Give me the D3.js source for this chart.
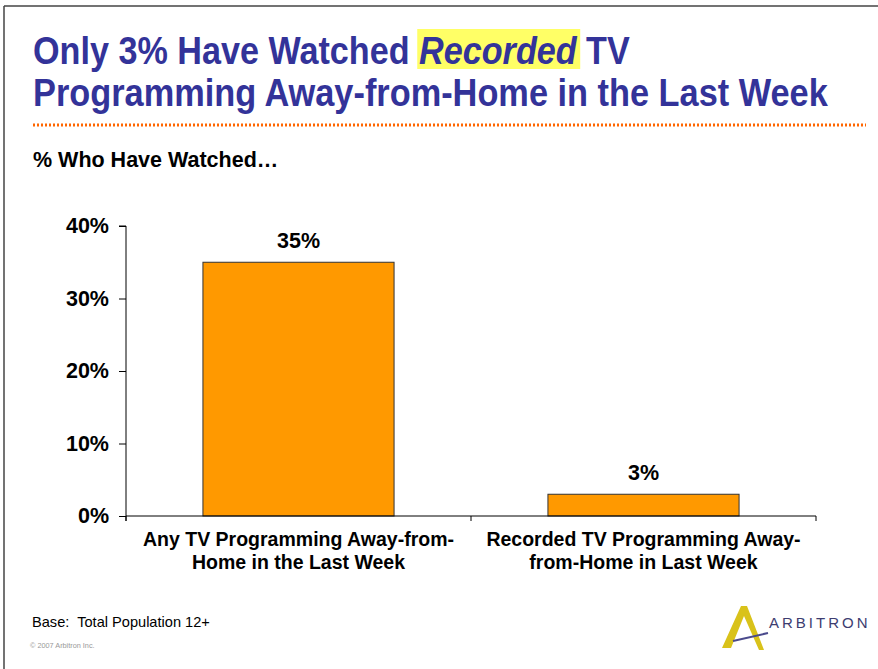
<!DOCTYPE html>
<html lang="en">
<head>
    <meta charset="UTF-8">
    <script src="https://d3js.org/d3.v7.min.js"></script>
    <title>Recorded TV Away-from-Home</title>
    <style>
        body { margin: 0; background: #fff; }
        svg { display: block; font-family: "Liberation Sans", Arial, sans-serif; }
    </style>
</head>
<body>
<div id="chart"></div>
<script>
    // ---- data ----
    const categories = [
        ["Any TV Programming Away-from-", "Home in the Last Week"],
        ["Recorded TV Programming Away-", "from-Home in Last Week"]
    ];
    const values = [35, 3];
    const yTicks = [0, 10, 20, 30, 40];

    const width = 878, height = 669;
    const svg = d3.select("#chart").append("svg")
        .attr("width", width)
        .attr("height", height);

    // slide frame (left and top edges)
    svg.append("line").attr("x1", 4).attr("y1", 6).attr("x2", 878).attr("y2", 6)
        .attr("stroke", "#444").attr("stroke-width", 1.5);
    svg.append("line").attr("x1", 4).attr("y1", 6).attr("x2", 4).attr("y2", 669)
        .attr("stroke", "#444").attr("stroke-width", 1.5);

    // ---- title ----
    const titleColor = "#333399";
    function titleLine(y, targetWidth, build) {
        const g = svg.append("g");
        const t = g.append("text")
            .attr("x", 0).attr("y", 0)
            .attr("font-size", 38).attr("font-weight", "bold")
            .attr("fill", titleColor);
        build(t);
        const w = t.node().getComputedTextLength();
        const sx = targetWidth / w;
        g.attr("transform", `translate(33,${y}) scale(${sx},1)`);
        return { g, t, sx };
    }

    const l1 = titleLine(64, 597, t => {
        t.append("tspan").text("Only 3% Have Watched ");
        t.append("tspan").attr("font-style", "italic").text("Recorded");
        t.append("tspan").text(" TV");
    });
    // yellow highlight behind "Recorded"
    {
        const node = l1.t.node();
        const start = "Only 3% Have Watched ".length;
        const xs = node.getStartPositionOfChar(start).x;
        const len = node.getSubStringLength(start, "Recorded".length);
        l1.g.insert("rect", "text")
            .attr("x", xs - 2).attr("y", -35)
            .attr("width", len + 6).attr("height", 40)
            .attr("fill", "#ffff66");
    }
    titleLine(106, 795, t => t.text("Programming Away-from-Home in the Last Week"));

    // dotted orange rule
    svg.append("line")
        .attr("x1", 33).attr("x2", 866).attr("y1", 125).attr("y2", 125)
        .attr("stroke", "#ff6600").attr("stroke-width", 3)
        .attr("stroke-dasharray", "2,2");

    svg.append("text")
        .attr("x", 33).attr("y", 167)
        .attr("font-size", 21.5).attr("font-weight", "bold")
        .attr("fill", "#000")
        .text("% Who Have Watched\u2026");

    // ---- chart ----
    const x0 = 126, x1 = 816, y0 = 516, yTop = 226;
    const x = d3.scaleBand()
        .domain(d3.range(values.length))
        .range([x0, x1])
        .paddingInner(0.446)
        .paddingOuter(0.223);
    const y = d3.scaleLinear().domain([0, 40]).range([y0, yTop]);

    svg.selectAll("rect.bar")
        .data(values)
        .enter()
        .append("rect")
        .attr("class", "bar")
        .attr("x", (d, i) => x(i))
        .attr("y", d => y(d))
        .attr("width", x.bandwidth())
        .attr("height", d => y0 - y(d))
        .attr("fill", "#ff9900")
        .attr("stroke", "#333")
        .attr("stroke-width", 1);

    svg.selectAll("text.val")
        .data(values)
        .enter()
        .append("text")
        .attr("class", "val")
        .attr("x", (d, i) => x(i) + x.bandwidth() / 2)
        .attr("y", d => y(d) - 14)
        .attr("text-anchor", "middle")
        .attr("font-size", 21.5).attr("font-weight", "bold")
        .text(d => d + "%");

    // y axis
    const yAxis = d3.axisLeft(y)
        .tickValues(yTicks)
        .tickSize(7)
        .tickPadding(10)
        .tickFormat(d => d + "%");
    const gy = svg.append("g")
        .attr("transform", `translate(${x0},0)`)
        .call(yAxis);
    gy.select(".domain").attr("stroke", "#000").attr("d", `M-7,${yTop}H0V${y0 + 5}`);
    gy.selectAll(".tick line").attr("stroke", "#000");
    gy.selectAll(".tick text")
        .attr("font-family", "'Liberation Sans', Arial, sans-serif")
        .attr("font-size", 21.5).attr("font-weight", "bold").attr("fill", "#000");

    // x axis with category separators
    svg.append("line")
        .attr("x1", x0).attr("x2", x1).attr("y1", y0).attr("y2", y0)
        .attr("stroke", "#000");
    const seps = d3.range(values.length + 1).map(i => x0 + i * x.step());
    svg.selectAll("line.sep")
        .data(seps)
        .enter()
        .append("line")
        .attr("class", "sep")
        .attr("x1", d => d).attr("x2", d => d)
        .attr("y1", y0).attr("y2", y0 + 5)
        .attr("stroke", "#000");

    const cat = svg.selectAll("text.cat")
        .data(categories)
        .enter()
        .append("text")
        .attr("class", "cat")
        .attr("text-anchor", "middle")
        .attr("font-size", 19.5).attr("font-weight", "bold")
        .attr("fill", "#000");
    cat.selectAll("tspan")
        .data((d, i) => d.map(s => ({ s, i })))
        .enter()
        .append("tspan")
        .attr("x", d => x(d.i) + x.bandwidth() / 2)
        .attr("y", (d, j) => 546 + j * 23)
        .text(d => d.s);

    // ---- footer ----
    svg.append("text")
        .attr("x", 32).attr("y", 627)
        .attr("font-size", 14.6).attr("fill", "#000")
        .attr("xml:space", "preserve")
        .text("Base:  Total Population 12+");
    svg.append("text")
        .attr("x", 30).attr("y", 648)
        .attr("font-size", 7.3).attr("fill", "#999")
        .text("\u00a9 2007 Arbitron Inc.");

    // logo
    const logo = svg.append("g");
    logo.append("path")
        .attr("d", "M722,648 L741,606 L747,606 L764,650 L759,650 L744,616 L731,648 Z")
        .attr("fill", "#d9c21a");
    logo.append("line")
        .attr("x1", 733).attr("y1", 641).attr("x2", 768).attr("y2", 633)
        .attr("stroke", "#4a4a8c").attr("stroke-width", 2);
    logo.append("text")
        .attr("x", 769).attr("y", 628)
        .attr("font-size", 15).attr("letter-spacing", 3)
        .attr("fill", "#3d3d70")
        .text("ARBITRON");
</script>
</body>
</html>
